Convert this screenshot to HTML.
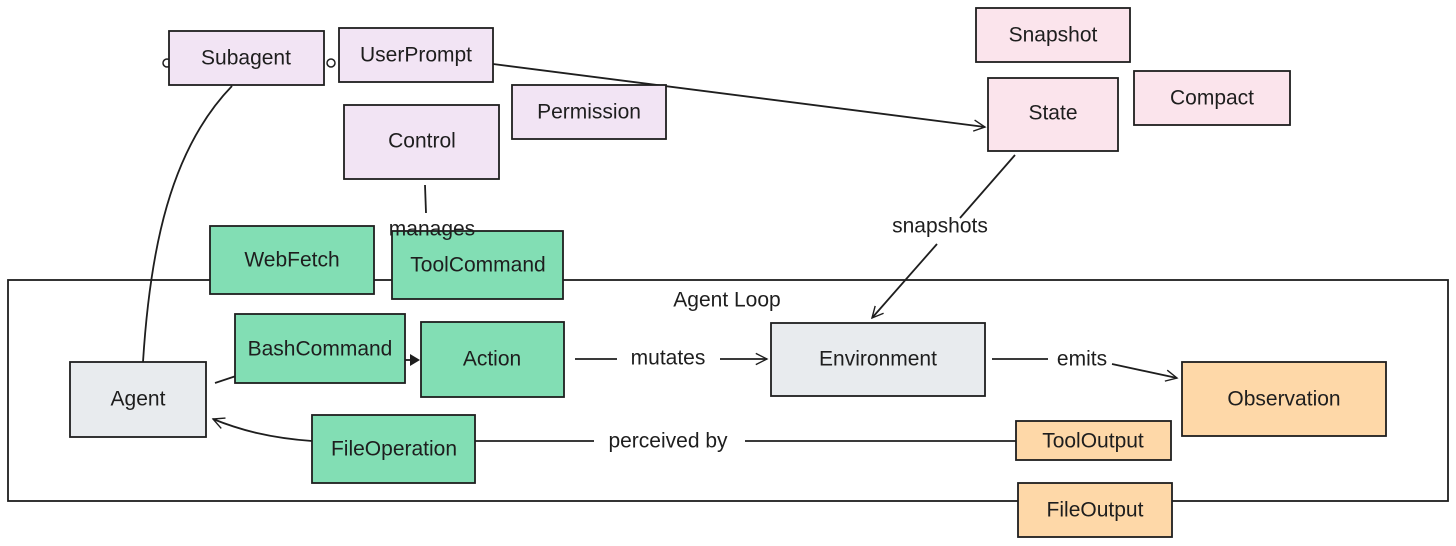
<!DOCTYPE html>
<html><head><meta charset="utf-8"><style>
html,body{margin:0;padding:0;background:#fff;}
svg{display:block;}
text{font-family:"Liberation Sans",sans-serif;font-size:21px;fill:#1e1e1e;text-anchor:middle;dominant-baseline:central;}
.e{font-size:21px;}
</style></head><body>
<svg width="1456" height="546" viewBox="0 0 1456 546" xmlns="http://www.w3.org/2000/svg">
<defs>
<marker id="a" viewBox="0 0 20 20" refX="18" refY="10" markerWidth="14" markerHeight="14" orient="auto" markerUnits="userSpaceOnUse">
<path d="M2 2 L18 10 L2 18" fill="none" stroke="#1e1e1e" stroke-width="2"/></marker>
</defs>
<g stroke="#1e1e1e" stroke-width="1.8" fill="none">
<!-- frame -->
<rect x="8" y="280" width="1440" height="221"/>
<!-- edges -->
<path d="M232 86 C170 150 150 250 143 362"/>
<path d="M493 64 L985 127" marker-end="url(#a)"/>
<path d="M425 185 L426 213"/>
<path d="M1015 155 L960 218"/>
<path d="M937 244 L872 318" marker-end="url(#a)"/>
<path d="M575 359 L617 359"/>
<path d="M720 359 L767 359" marker-end="url(#a)"/>
<path d="M992 359 L1048 359"/>
<path d="M1112 364 L1177 378" marker-end="url(#a)"/>
<path d="M1016 441 L745 441"/>
<path d="M594 441 L475 441"/>
<path d="M312 441 C270 438 240 430 213 419" marker-end="url(#a)"/>
<path d="M215 383 L236 376"/>
<path d="M405 360 L418 360"/>
</g>
<path d="M410 354 L420 360 L410 366Z" fill="#1e1e1e"/>
<circle cx="167" cy="63" r="4" fill="#fff" stroke="#1e1e1e" stroke-width="1.5"/>
<circle cx="331" cy="63" r="4" fill="#fff" stroke="#1e1e1e" stroke-width="1.5"/>
<g stroke="#1e1e1e" stroke-width="1.8">
<rect x="169" y="31" width="155" height="54" fill="#f2e4f4"/>
<rect x="339" y="28" width="154" height="54" fill="#f2e4f4"/>
<rect x="512" y="85" width="154" height="54" fill="#f2e4f4"/>
<rect x="344" y="105" width="155" height="74" fill="#f2e4f4"/>
<rect x="976" y="8" width="154" height="54" fill="#fbe4ec"/>
<rect x="988" y="78" width="130" height="73" fill="#fbe4ec"/>
<rect x="1134" y="71" width="156" height="54" fill="#fbe4ec"/>
<rect x="210" y="226" width="164" height="68" fill="#82deb4"/>
<rect x="392" y="231" width="171" height="68" fill="#82deb4"/>
<rect x="235" y="314" width="170" height="69" fill="#82deb4"/>
<rect x="421" y="322" width="143" height="75" fill="#82deb4"/>
<rect x="312" y="415" width="163" height="68" fill="#82deb4"/>
<rect x="771" y="323" width="214" height="73" fill="#e8ebee"/>
<rect x="70" y="362" width="136" height="75" fill="#e8ebee"/>
<rect x="1182" y="362" width="204" height="74" fill="#fed8a8"/>
<rect x="1016" y="421" width="155" height="39" fill="#fed8a8"/>
<rect x="1018" y="483" width="154" height="54" fill="#fed8a8"/>
</g>
<text x="246" y="58">Subagent</text>
<text x="416" y="55">UserPrompt</text>
<text x="589" y="112">Permission</text>
<text x="422" y="141">Control</text>
<text x="1053" y="35">Snapshot</text>
<text x="1053" y="113">State</text>
<text x="1212" y="98">Compact</text>
<text x="292" y="260">WebFetch</text>
<text x="478" y="265">ToolCommand</text>
<text x="320" y="349">BashCommand</text>
<text x="492" y="359">Action</text>
<text x="394" y="449">FileOperation</text>
<text x="878" y="359">Environment</text>
<text x="138" y="399">Agent</text>
<text x="1284" y="399">Observation</text>
<text x="1093" y="441">ToolOutput</text>
<text x="1095" y="510">FileOutput</text>
<text x="727" y="300">Agent Loop</text>
<text x="940" y="226">snapshots</text>
<text x="668" y="358">mutates</text>
<text x="1082" y="359">emits</text>
<text x="668" y="441">perceived by</text>
<text x="432" y="229">manages</text>
</svg>
</body></html>
